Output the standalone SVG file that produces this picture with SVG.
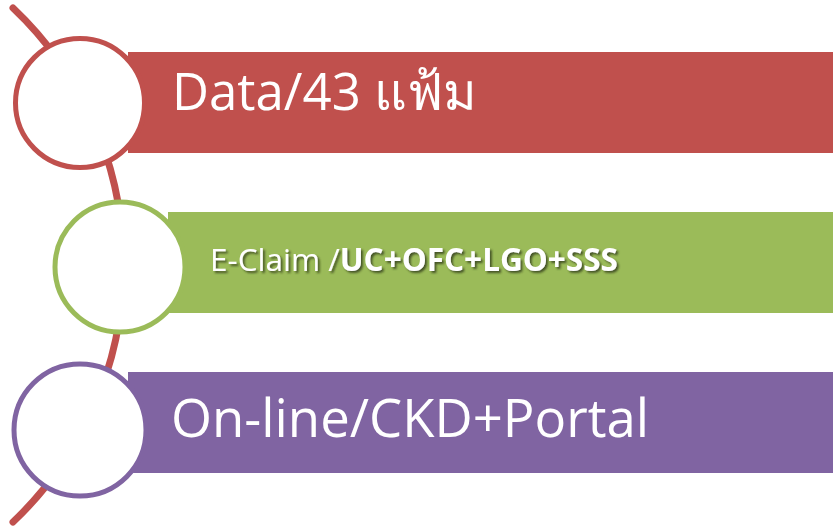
<svg xmlns="http://www.w3.org/2000/svg" width="833" height="532" viewBox="0 0 833 532">
<style>
.lbl{fill:#fff;font-family:"Open Sans","Noto Sans","DejaVu Sans",sans-serif}
.big{font-size:51px}
.mid{font-size:31.5px}
.ring{fill:#fff;stroke-width:5}
</style>
<defs>
<filter id="sh" x="-5%" y="-30%" width="110%" height="160%">
<feDropShadow dx="2" dy="2" stdDeviation="1" flood-color="#2f3a16" flood-opacity="0.8"/>
</filter>
</defs>
<rect width="833" height="532" fill="#fff"/>
<g id="bars">
<rect x="128" y="52" width="705" height="101" fill="#c0504d"/>
<rect x="168" y="212" width="665" height="101" fill="#9bbb59"/>
<rect x="128" y="372" width="705" height="101" fill="#8064a2"/>
</g>
<g id="connectors">
<path d="M13 8 A354 354 0 0 1 13 522" fill="none" stroke="#c0504d" stroke-width="7" stroke-linecap="round"/>
</g>
<g id="node-data">
<circle class="ring" cx="80" cy="103" r="64.5" stroke="#c0504d"/>
<text class="lbl big" x="172" y="110">Data/43 แฟ้ม</text>
</g>
<g id="node-eclaim">
<circle class="ring" cx="120" cy="267" r="65" stroke="#9bbb59"/>
<text class="lbl mid" x="210" y="271" filter="url(#sh)">E-Claim /<tspan font-weight="bold">UC+OFC+LGO+SSS</tspan></text>
</g>
<g id="node-online">
<circle class="ring" cx="80" cy="430" r="66" stroke="#8064a2"/>
<text class="lbl big" x="171" y="437" style="font-size:52.7px">On-line/CKD+Portal</text>
</g>
</svg>
